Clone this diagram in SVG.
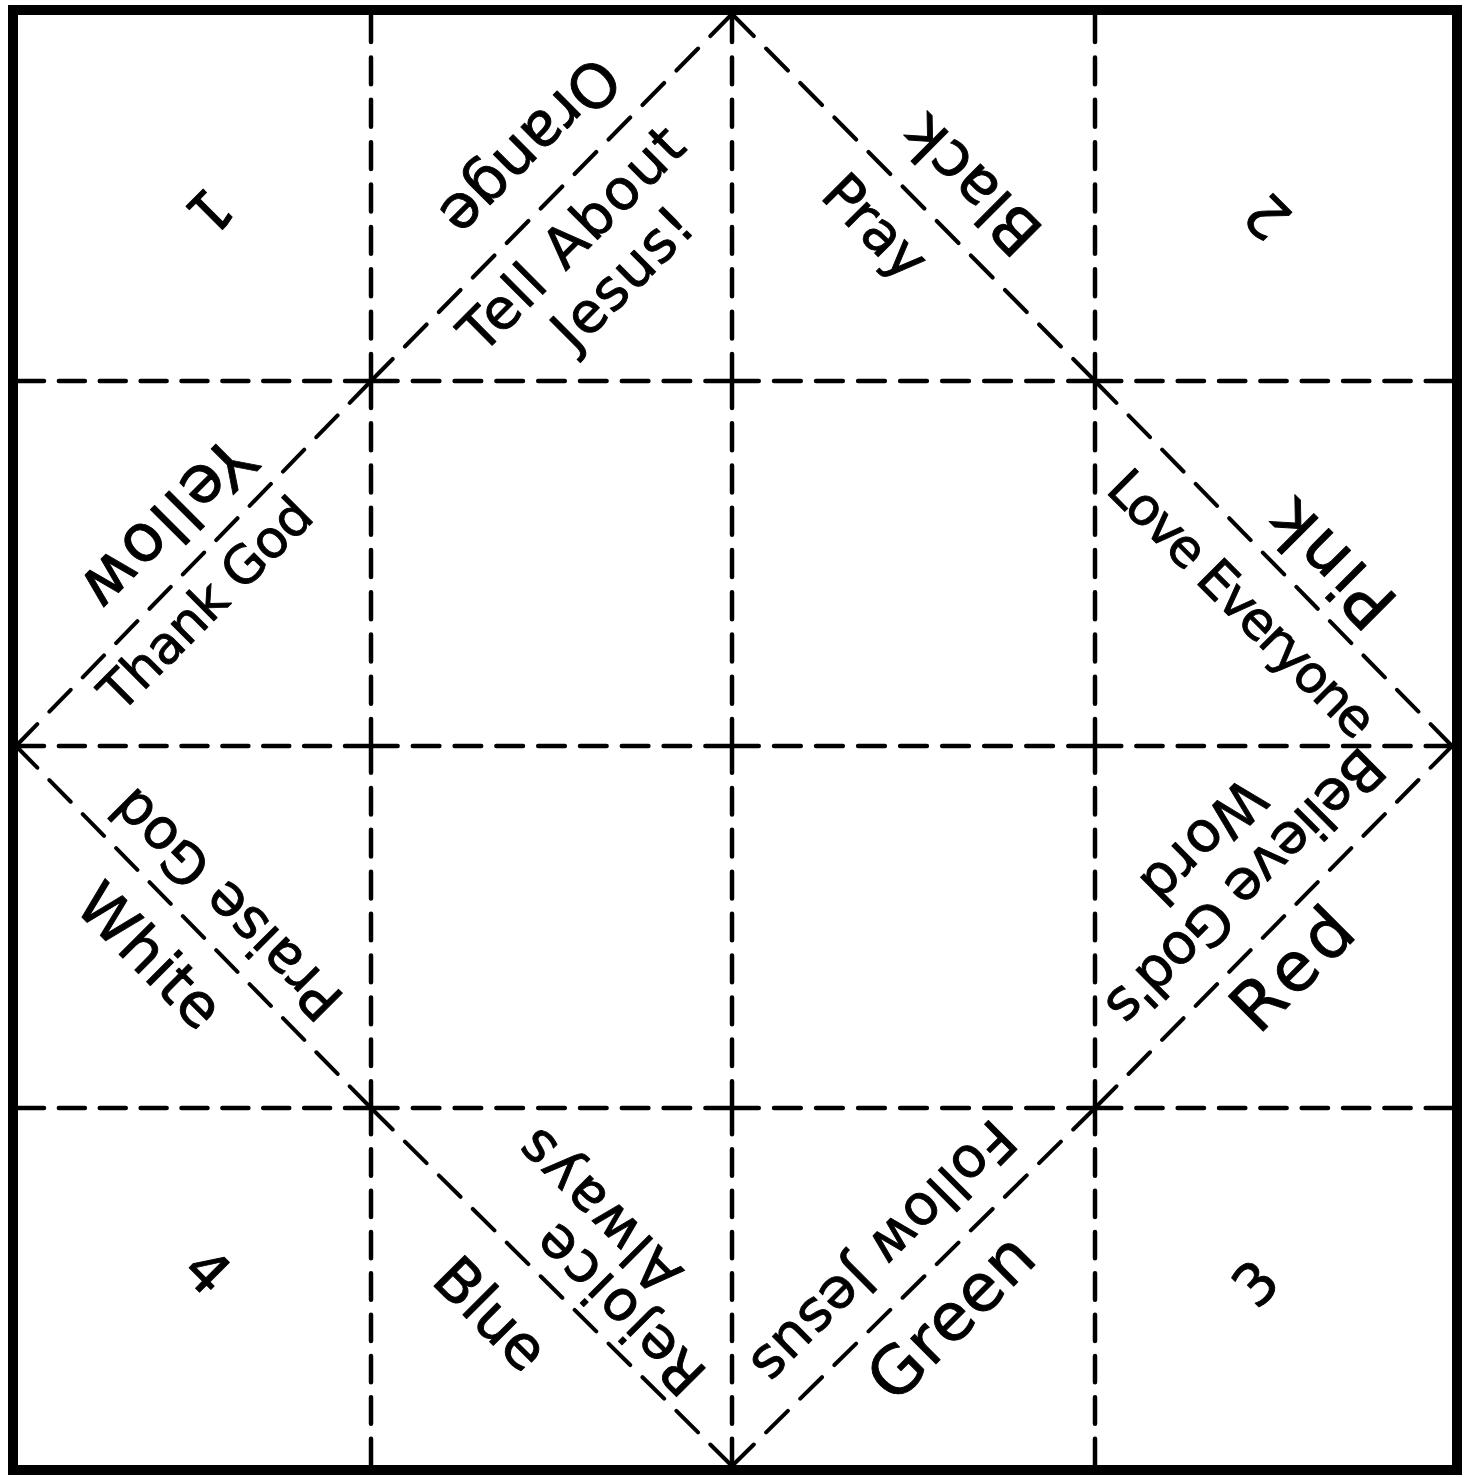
<svg xmlns="http://www.w3.org/2000/svg" width="1468" height="1477" viewBox="0 0 1468 1477">
<style>
.fold{stroke:#000;stroke-width:4.5;stroke-linecap:round;stroke-dasharray:28 16;fill:none}
.diag{stroke:#000;stroke-width:4;stroke-linecap:round;stroke-dasharray:30 17;fill:none}
.t{font-family:"DejaVu Sans","Liberation Sans",sans-serif;fill:#000;stroke:#000;stroke-width:0.9;stroke-linejoin:round;text-anchor:middle}
.c{font-size:62px}
.p{font-size:56px}
.n{font-size:58px}
</style>
<rect x="0" y="0" width="1468" height="1477" fill="#fff"/>
<rect id="border" x="13" y="10" width="1444" height="1460" fill="none" stroke="#000" stroke-width="10"/>
<g id="folds">
<line class="fold" pathLength="380" x1="371" y1="15" x2="371" y2="381"/>
<line class="fold" pathLength="380" x1="371" y1="381" x2="371" y2="746"/>
<line class="fold" pathLength="380" x1="371" y1="746" x2="371" y2="1108"/>
<line class="fold" pathLength="380" x1="371" y1="1108" x2="371" y2="1465"/>
<line class="fold" pathLength="380" x1="732" y1="15" x2="732" y2="381"/>
<line class="fold" pathLength="380" x1="732" y1="381" x2="732" y2="746"/>
<line class="fold" pathLength="380" x1="732" y1="746" x2="732" y2="1108"/>
<line class="fold" pathLength="380" x1="732" y1="1108" x2="732" y2="1465"/>
<line class="fold" pathLength="380" x1="1095" y1="15" x2="1095" y2="381"/>
<line class="fold" pathLength="380" x1="1095" y1="381" x2="1095" y2="746"/>
<line class="fold" pathLength="380" x1="1095" y1="746" x2="1095" y2="1108"/>
<line class="fold" pathLength="380" x1="1095" y1="1108" x2="1095" y2="1465"/>
<line class="fold" pathLength="380" x1="18" y1="381" x2="371" y2="381"/>
<line class="fold" pathLength="380" x1="371" y1="381" x2="732" y2="381"/>
<line class="fold" pathLength="380" x1="732" y1="381" x2="1095" y2="381"/>
<line class="fold" pathLength="380" x1="1095" y1="381" x2="1452" y2="381"/>
<line class="fold" pathLength="380" x1="18" y1="746" x2="371" y2="746"/>
<line class="fold" pathLength="380" x1="371" y1="746" x2="732" y2="746"/>
<line class="fold" pathLength="380" x1="732" y1="746" x2="1095" y2="746"/>
<line class="fold" pathLength="380" x1="1095" y1="746" x2="1452" y2="746"/>
<line class="fold" pathLength="380" x1="18" y1="1108" x2="371" y2="1108"/>
<line class="fold" pathLength="380" x1="371" y1="1108" x2="732" y2="1108"/>
<line class="fold" pathLength="380" x1="732" y1="1108" x2="1095" y2="1108"/>
<line class="fold" pathLength="380" x1="1095" y1="1108" x2="1452" y2="1108"/>
<line class="diag" pathLength="500" x1="732" y1="14" x2="371" y2="381"/>
<line class="diag" pathLength="500" x1="371" y1="381" x2="16" y2="746"/>
<line class="diag" pathLength="500" x1="732" y1="14" x2="1095" y2="381"/>
<line class="diag" pathLength="500" x1="1095" y1="381" x2="1452" y2="746"/>
<line class="diag" pathLength="500" x1="16" y1="746" x2="371" y2="1108"/>
<line class="diag" pathLength="500" x1="371" y1="1108" x2="732" y2="1466"/>
<line class="diag" pathLength="500" x1="1452" y1="746" x2="1095" y2="1108"/>
<line class="diag" pathLength="500" x1="1095" y1="1108" x2="732" y2="1466"/>
</g>
<g id="numbers">
<g id="n1" transform="translate(210,212) rotate(135)"><text class="t n" y="21">1</text></g>
<g id="n2" transform="translate(1267,217) rotate(-135)"><text class="t n" y="21">2</text></g>
<g id="n3" transform="translate(1255,1283) rotate(-45)"><text class="t n" y="21">3</text></g>
<g id="n4" transform="translate(208,1271) rotate(45)"><text class="t n" y="21">4</text></g>
</g>
<g id="colors">
<g id="orange" transform="translate(531,148) rotate(135)"><text class="t c" style="font-size:61px" y="22" textLength="224">Orange</text></g>
<g id="black" transform="translate(970,186) rotate(-135)"><text class="t c" y="23" textLength="168">Black</text></g>
<g id="pink" transform="translate(1330,565) rotate(-135)"><text class="t c" style="font-size:68px" y="25" textLength="150">Pink</text></g>
<g id="red" transform="translate(1291,968) rotate(-45)"><text class="t c" style="font-size:68px" y="25" textLength="142">Red</text></g>
<g id="green" transform="translate(950,1316) rotate(-45)"><text class="t c" style="font-size:66px" y="24" textLength="204">Green</text></g>
<g id="blue" transform="translate(492,1313) rotate(45)"><text class="t c" style="font-size:60px" y="22" textLength="132">Blue</text></g>
<g id="white" transform="translate(151,955) rotate(45)"><text class="t c" style="font-size:60px" y="22" textLength="177">White</text></g>
<g id="yellow" transform="translate(169,525) rotate(135)"><text class="t c" style="font-size:66px" y="24" textLength="214">Yellow</text></g>
</g>
<g id="fortunes">
<g id="tell" transform="translate(571,238) rotate(-45)"><text class="t p" y="20" textLength="292">Tell About</text></g>
<g id="jesus" transform="translate(622,277) rotate(-45)"><text class="t p" y="20" textLength="174">Jesus!</text></g>
<g id="pray" transform="translate(876,226) rotate(45)"><text class="t p" y="20" textLength="122">Pray</text></g>
<g id="love" transform="translate(1243,603) rotate(45)"><text class="t p" style="font-size:52px" y="19" textLength="354">Love Everyone</text></g>
<g id="believe" transform="translate(1246,888) rotate(135)"><text class="t p" y="20" textLength="366">Believe God's</text></g>
<g id="word" transform="translate(1204,842) rotate(135)"><text class="t p" y="20" textLength="150">Word</text></g>
<g id="follow" transform="translate(884,1253) rotate(135)"><text class="t p" y="20" textLength="346">Follow Jesus</text></g>
<g id="rejoice" transform="translate(619,1310) rotate(-135)"><text class="t p" y="20" textLength="215">Rejoice</text></g>
<g id="always" transform="translate(598,1212) rotate(-135)"><text class="t p" y="20" textLength="206">Always</text></g>
<g id="praise" transform="translate(226,905) rotate(-135)"><text class="t p" y="20" textLength="300">Praise God</text></g>
<g id="thank" transform="translate(205,603) rotate(-45)"><text class="t p" style="font-size:52px" y="19" textLength="276">Thank God</text></g>
</g>
</svg>
